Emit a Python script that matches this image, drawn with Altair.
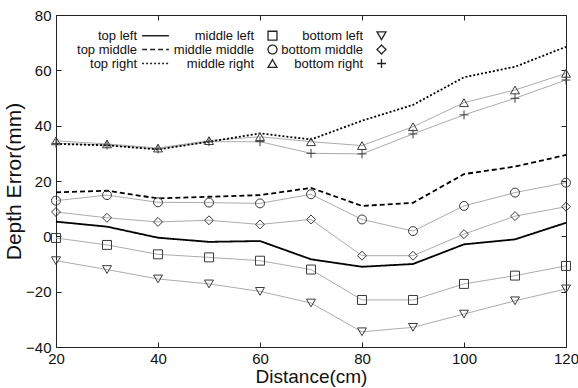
import altair as alt
import pandas as pd

# Distance from the sensor (cm)
distance = [20, 30, 40, 50, 60, 70, 80, 90, 100, 110, 120]

# Depth error (mm) per measurement position
top_left = [5.3, 3.5, -0.5, -2.0, -1.7, -8.3, -11.0, -10.0, -2.9, -1.1, 4.9]
top_middle = [15.9, 16.5, 13.7, 14.3, 14.9, 17.5, 11.0, 12.1, 22.5, 25.2, 29.4]
top_right = [33.4, 32.9, 31.4, 34.2, 37.2, 35.0, 41.8, 47.5, 57.5, 61.3, 68.5]
middle_left = [-0.6, -3.1, -6.5, -7.6, -8.8, -12.0, -23.0, -23.0, -17.2, -14.2, -10.7]
middle_middle = [12.9, 14.9, 12.3, 12.2, 11.9, 15.2, 6.1, 1.9, 11.0, 15.8, 19.4]
middle_right = [34.5, 33.4, 31.9, 34.6, 36.0, 34.2, 32.8, 39.6, 48.3, 52.9, 58.9]
bottom_left = [-8.8, -12.0, -15.4, -17.2, -19.9, -24.1, -34.5, -32.9, -28.1, -23.3, -19.0]
bottom_middle = [8.8, 6.7, 5.2, 5.8, 4.3, 6.1, -7.0, -7.0, 0.8, 7.3, 10.7]
bottom_right = [33.6, 33.0, 31.6, 34.2, 34.2, 30.0, 29.8, 37.0, 43.9, 49.9, 56.5]

series = {
    "top left": top_left,
    "top middle": top_middle,
    "top right": top_right,
    "middle left": middle_left,
    "middle middle": middle_middle,
    "middle right": middle_right,
    "bottom left": bottom_left,
    "bottom middle": bottom_middle,
    "bottom right": bottom_right,
}

# legend entries fill the three columns top to bottom
legend_order = list(series.keys())
line_series = ["top left", "top middle", "top right"]

# long horizontal stroke for the line entries, plus sign for "bottom right"
line_path = "M-3,0H3"
plus_path = "M-1,0H1M0,-1V1"
shape_range = [line_path, line_path, line_path,
               "square", "circle", "triangle-up",
               "triangle-down", "diamond", plus_path]
dash_range = [[1, 0], [5, 3], [2, 2],
              [1, 0], [1, 0], [1, 0],
              [1, 0], [1, 0], [1, 0]]

rows = []
for name, values in series.items():
    for d, v in zip(distance, values):
        rows.append({"position": name, "distance": d, "error": v})
df = pd.DataFrame(rows)

FONT = "Liberation Sans"

x_scale = alt.Scale(domain=[20, 120], nice=False)
y_scale = alt.Scale(domain=[-40, 80], nice=False)
x_ticks = [20, 40, 60, 80, 100, 120]
y_ticks = [-40, -20, 0, 20, 40, 60, 80]

x_bottom = alt.Axis(values=x_ticks, title="Distance(cm)", orient="bottom",
                    offset=-5, tickSize=5, domain=False, grid=False,
                    labelFontSize=15, titleFontSize=19, labelPadding=4,
                    titlePadding=1, labelFlush=False)
y_left = alt.Axis(values=y_ticks, title="Depth Error(mm)", orient="left",
                  offset=-5, tickSize=5, domain=False, grid=False,
                  labelFontSize=15, titleFontSize=21, labelPadding=5,
                  titlePadding=1, labelFlush=False)
x_top = alt.Axis(values=x_ticks, title=None, orient="top", labels=False,
                 offset=-5, tickSize=5, domain=False, grid=False)
y_right = alt.Axis(values=y_ticks, title=None, orient="right", labels=False,
                   offset=-5, tickSize=5, domain=False, grid=False)

marker_df = df[~df["position"].isin(line_series)]
line_df = df[df["position"].isin(line_series)]

legend_common = dict(title=None, symbolStrokeColor="#222",
                     symbolFillColor="transparent", symbolSize=80)

gray_lines = alt.Chart(marker_df).mark_line(color="#acacac", strokeWidth=1).encode(
    x=alt.X("distance:Q", scale=x_scale, axis=x_bottom),
    y=alt.Y("error:Q", scale=y_scale, axis=y_left),
    detail="position:N",
)

black_lines = alt.Chart(line_df).mark_line(color="black", strokeWidth=1.8).encode(
    x=alt.X("distance:Q", scale=x_scale, axis=x_top),
    y=alt.Y("error:Q", scale=y_scale, axis=y_right),
    strokeDash=alt.StrokeDash(
        "position:N",
        scale=alt.Scale(domain=legend_order, range=dash_range),
        legend=alt.Legend(**legend_common),
    ),
)

markers = alt.Chart(marker_df).mark_point(
    filled=False, color="#3a3a3a", strokeWidth=1, opacity=1, size=80
).encode(
    x=alt.X("distance:Q", scale=x_scale, axis=None),
    y=alt.Y("error:Q", scale=y_scale, axis=None),
    shape=alt.Shape(
        "position:N",
        scale=alt.Scale(domain=legend_order, range=shape_range),
        legend=alt.Legend(**legend_common),
    ),
)

chart = (
    alt.layer(gray_lines, black_lines, markers)
    .resolve_axis(x="independent", y="independent")
    .properties(
        width=510,
        height=332,
        autosize="none",
        padding={"left": 56, "top": 15, "right": 12, "bottom": 41},
        background="white",
    )
    .configure_view(stroke="#222", strokeWidth=1)
    .configure_axis(labelFont=FONT, titleFont=FONT, labelColor="#111",
                    titleColor="#111", tickColor="#222", titleFontWeight="normal")
    .configure_legend(
        orient="none", legendX=93, legendY=14, columns=3,
        labelAlign="right", labelOffset={"expr": "-25"}, labelBaseline="middle",
        columnPadding=1, rowPadding={"expr": "-4"}, padding=0,
        labelFont=FONT, labelFontSize=13, labelColor="#111",
        symbolStrokeWidth=1.3, labelLimit=0,
    )
)

chart.save("out.html", embed_options={"renderer": "svg", "actions": False})
